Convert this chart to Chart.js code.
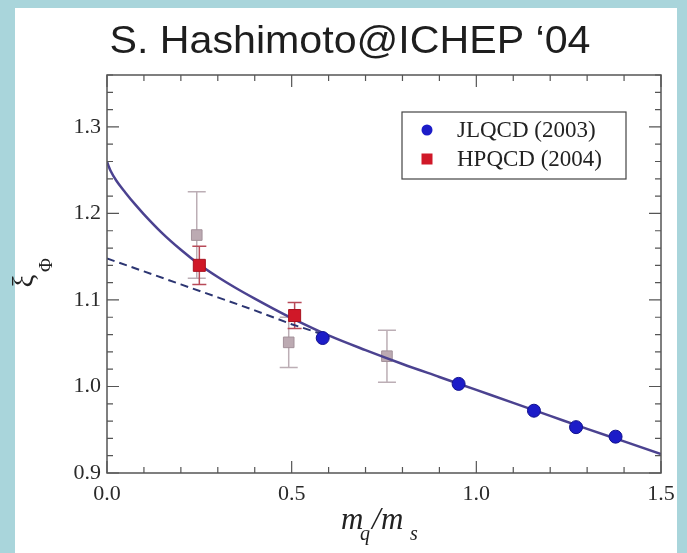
<!DOCTYPE html>
<html>
<head>
<meta charset="utf-8">
<script src="https://cdn.jsdelivr.net/npm/chart.js@4.4.1/dist/chart.umd.min.js"></script>
<style>
html, body { margin: 0; padding: 0; background: #a9d5db; }
#grafico { display: block; }
</style>
</head>
<body>
<canvas id="grafico" width="687" height="553"></canvas>
<script>
// tick labels
var xTicks = [0.0, 0.5, 1.0, 1.5];
var yTicks = [0.9, 1.0, 1.1, 1.2, 1.3];

// solid curve (fit with chiral log)
var fitX = [0.0, 0.005, 0.01, 0.025, 0.05, 0.075, 0.1, 0.15, 0.2, 0.25, 0.3, 0.35, 0.4, 0.45, 0.5, 0.6, 0.7, 0.8, 0.9, 1.0, 1.1, 1.2, 1.3, 1.4, 1.5];
var fitY = [1.260, 1.254, 1.249, 1.238, 1.224, 1.211, 1.199, 1.177, 1.158, 1.141, 1.1265, 1.1135, 1.1015, 1.090, 1.079, 1.059, 1.042, 1.026, 1.011, 0.996, 0.981, 0.966, 0.951, 0.9365, 0.922];

// dashed curve
var linX = [0.0, 0.1, 0.2, 0.3, 0.4, 0.5, 0.6];
var linY = [1.148, 1.133, 1.118, 1.103, 1.088, 1.072, 1.058];

// JLQCD (2003)
var jlqcdX = [0.584, 0.952, 1.156, 1.270, 1.377];
var jlqcdY = [1.056, 1.003, 0.972, 0.953, 0.942];

// HPQCD (2004)
var hpqcdX = [0.250, 0.508];
var hpqcdY = [1.140, 1.082];
var hpqcdErr = [0.022, 0.015];

// faded older points
var oldX = [0.243, 0.492, 0.758];
var oldY = [1.175, 1.051, 1.035];
var oldErr = [0.050, 0.029, 0.030];

function pares(xs, ys){
    var out = [];
    for(var i = 0; i < xs.length; i++){
        out.push({x: xs[i], y: ys[i]});
    }
    return out;
}

function barras(ctx, sx, sy, xs, ys, es, cor, cap){
    ctx.strokeStyle = cor;
    ctx.lineWidth = 1.5;
    for(var i = 0; i < xs.length; i++){
        var px = sx.getPixelForValue(xs[i]);
        var t = sy.getPixelForValue(ys[i] + es[i]);
        var b = sy.getPixelForValue(ys[i] - es[i]);
        ctx.beginPath();
        ctx.moveTo(px, t); ctx.lineTo(px, b);
        ctx.moveTo(px - cap, t); ctx.lineTo(px + cap, t);
        ctx.moveTo(px - cap, b); ctx.lineTo(px + cap, b);
        ctx.stroke();
    }
}

var decor = {
    id: 'decor',
    beforeDraw: function(chart){
        var ctx = chart.ctx;
        ctx.save();
        ctx.fillStyle = '#a9d5db';
        ctx.fillRect(0, 0, chart.width, chart.height);
        ctx.fillStyle = '#ffffff';
        ctx.fillRect(15, 8, 662, 545);
        ctx.restore();
    },
    beforeDatasetsDraw: function(chart){
        var ctx = chart.ctx;
        var sx = chart.scales.x, sy = chart.scales.y;
        ctx.save();
        barras(ctx, sx, sy, oldX, oldY, oldErr, '#bcaeb5', 9);
        barras(ctx, sx, sy, hpqcdX, hpqcdY, hpqcdErr, '#b84a58', 7);
        ctx.restore();
    },
    afterDraw: function(chart){
        var ctx = chart.ctx;
        var a = chart.chartArea;
        var sx = chart.scales.x, sy = chart.scales.y;
        ctx.save();

        // frame
        ctx.strokeStyle = '#555';
        ctx.lineWidth = 1.5;
        ctx.strokeRect(a.left, a.top, a.right - a.left, a.bottom - a.top);

        // inward ticks on all sides
        ctx.lineWidth = 1.2;
        ctx.beginPath();
        for(var v = 0; v <= 1.5001; v += 0.1){
            var major = Math.abs(v * 2 - Math.round(v * 2)) < 0.001;
            var len = major ? 12 : 6;
            var px = sx.getPixelForValue(v);
            ctx.moveTo(px, a.bottom); ctx.lineTo(px, a.bottom - len);
            ctx.moveTo(px, a.top); ctx.lineTo(px, a.top + len);
        }
        for(var k = 0; k <= 23; k++){
            var w = 0.9 + k * 0.02;
            var maj = k % 5 === 0;
            var l2 = maj ? 12 : 6;
            var py = sy.getPixelForValue(w);
            ctx.moveTo(a.left, py); ctx.lineTo(a.left + l2, py);
            ctx.moveTo(a.right, py); ctx.lineTo(a.right - l2, py);
        }
        ctx.stroke();

        // title
        ctx.fillStyle = '#1e1e1e';
        ctx.font = '39px "Liberation Sans", Arial, sans-serif';
        ctx.textBaseline = 'alphabetic';
        ctx.textAlign = 'center';
        var titulo = 'S. Hashimoto@ICHEP \u201804';
        var tw = ctx.measureText(titulo).width;
        ctx.save();
        ctx.translate(350, 53);
        ctx.scale(481 / tw, 1);
        ctx.fillText(titulo, 0, 0);
        ctx.restore();

        // x axis title m_q/m_s
        ctx.fillStyle = '#222';
        ctx.textAlign = 'left';
        var cx = (a.left + a.right) / 2;
        ctx.font = 'italic 31px "Liberation Serif", serif';
        ctx.fillText('m', cx - 43, 529);
        ctx.fillText('/', cx - 12, 529);
        ctx.fillText('m', cx - 3, 529);
        ctx.font = 'italic 20px "Liberation Serif", serif';
        ctx.fillText('q', cx - 24, 540);
        ctx.fillText('s', cx + 26, 540);

        // y axis title xi_Phi (rotated)
        ctx.textAlign = 'center';
        ctx.textBaseline = 'middle';
        ctx.save();
        ctx.translate(25, 281);
        ctx.rotate(-Math.PI / 2);
        ctx.font = '29px "Liberation Serif", "DejaVu Serif", serif';
        ctx.fillText('\u03BE', 0, 0);
        ctx.restore();
        ctx.save();
        ctx.translate(47, 265);
        ctx.rotate(-Math.PI / 2);
        ctx.font = '19px "Liberation Serif", "DejaVu Serif", serif';
        ctx.fillText('\u03A6', 0, 0);
        ctx.restore();

        // legend
        ctx.strokeStyle = '#444';
        ctx.lineWidth = 1.2;
        ctx.strokeRect(402, 112, 224, 67);
        ctx.fillStyle = '#1c1cc8';
        ctx.beginPath();
        ctx.arc(427, 130, 5.5, 0, Math.PI * 2);
        ctx.fill();
        ctx.fillStyle = '#d01828';
        ctx.fillRect(421.5, 153.5, 11, 11);
        ctx.fillStyle = '#222';
        ctx.textAlign = 'left';
        ctx.font = '23px "Liberation Serif", serif';
        ctx.fillText('JLQCD (2003)', 457, 131);
        ctx.fillText('HPQCD (2004)', 457, 160);

        ctx.restore();
    }
};

var fonteTicks = {family: '"Liberation Serif", serif', size: 22};

var config = {
    type: 'scatter',
    data: {
        datasets: [
            {
                label: 'JLQCD (2003)',
                data: pares(jlqcdX, jlqcdY),
                pointStyle: 'circle',
                pointRadius: 6.5,
                backgroundColor: '#1c1cc8',
                borderColor: '#12128f',
                borderWidth: 1
            },
            {
                label: 'HPQCD (2004)',
                data: pares(hpqcdX, hpqcdY),
                pointStyle: 'rect',
                pointRadius: 8.5,
                backgroundColor: '#d01828',
                borderColor: '#a8121f',
                borderWidth: 1
            },
            {
                label: 'fit',
                data: pares(fitX, fitY),
                showLine: true,
                pointRadius: 0,
                borderColor: '#4b4290',
                borderWidth: 2.5,
                cubicInterpolationMode: 'monotone'
            },
            {
                label: 'linear',
                data: pares(linX, linY),
                showLine: true,
                pointRadius: 0,
                borderColor: '#2c3572',
                borderWidth: 2,
                borderDash: [8, 5]
            },
            {
                label: 'old',
                data: pares(oldX, oldY),
                pointStyle: 'rect',
                pointRadius: 7.5,
                backgroundColor: '#bcaab2',
                borderColor: '#a3919a',
                borderWidth: 1
            }
        ]
    },
    options: {
        responsive: false,
        animation: false,
        layout: { padding: { left: 0, top: 75, right: 26, bottom: 30 } },
        plugins: {
            legend: { display: false },
            title: { display: false },
            tooltip: { enabled: false }
        },
        scales: {
            x: {
                type: 'linear',
                min: 0,
                max: 1.5,
                afterBuildTicks: function(s){ s.ticks = xTicks.map(function(v){ return {value: v}; }); },
                afterFit: function(s){ s.height = 50; },
                grid: { display: false, drawTicks: false },
                border: { display: false },
                ticks: {
                    font: fonteTicks,
                    color: '#2a2a2a',
                    padding: 8,
                    maxRotation: 0,
                    autoSkip: false,
                    callback: function(v){ return v.toFixed(1); }
                }
            },
            y: {
                type: 'linear',
                min: 0.9,
                max: 1.36,
                afterBuildTicks: function(s){ s.ticks = yTicks.map(function(v){ return {value: v}; }); },
                afterFit: function(s){ s.width = 107; },
                grid: { display: false, drawTicks: false },
                border: { display: false },
                ticks: {
                    font: fonteTicks,
                    color: '#2a2a2a',
                    padding: 6,
                    autoSkip: false,
                    callback: function(v){ return v.toFixed(1); }
                }
            }
        }
    },
    plugins: [decor]
};

var grafico = new Chart(document.getElementById('grafico').getContext('2d'), config);
</script>
</body>
</html>
